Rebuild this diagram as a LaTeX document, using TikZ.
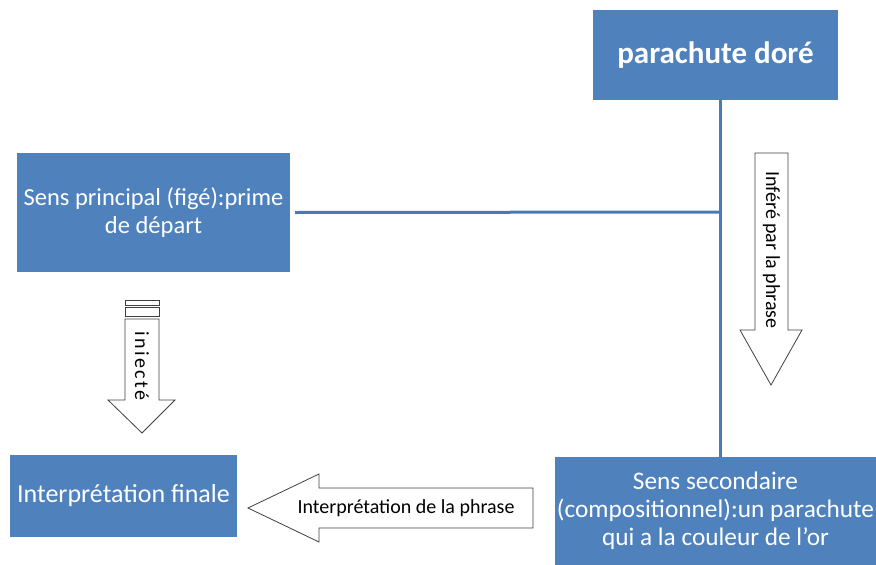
\documentclass[tikz,border=0pt]{standalone}
\usepackage{fontspec}
\setmainfont{Carlito}
\definecolor{boxblue}{HTML}{4F81BD}
\definecolor{lineblue}{HTML}{4A7AB5}
\begin{document}
\begin{tikzpicture}[x=1pt,y=-1pt,
  bluebox/.style={fill=boxblue,draw=none,text=white,align=center,inner sep=0pt},
  blockarrow/.style={draw=black!75,fill=white,line width=0.8pt},
  conn/.style={draw=lineblue,line width=3pt},
  arrtext/.style={font=\fontsize{20}{24}\selectfont,inner sep=0pt}]
\useasboundingbox (0,0) rectangle (876,565);
% boxes
\node[bluebox,minimum width=245pt,minimum height=90pt,font=\bfseries\fontsize{31}{36}\selectfont] (pd) at (715.5,55) {parachute doré};
\node[bluebox,minimum width=273pt,minimum height=119pt,font=\fontsize{24.5}{28}\selectfont] (sp) at (153.5,212.5) {Sens principal (figé):prime\\de départ};
\node[bluebox,minimum width=227pt,minimum height=82pt,font=\fontsize{26}{30}\selectfont] (if) at (123.5,496) {Interprétation finale};
\node[bluebox,minimum width=321pt,minimum height=108pt,font=\fontsize{25.3}{28}\selectfont] (ss) at (715.5,511) {Sens secondaire\\(compositionnel):un parachute\\qui a la couleur de l’or};
% connectors
\coordinate (j) at (720,212);
\draw[conn] (pd.south -| j) -- (ss.north -| j);
\path (sp.east) ++(5,0) coordinate (spe);
\draw[conn] (spe) -- (j);
% Inféré arrow
\draw[blockarrow] (755,153) -- (788,153) -- (788,330) -- (802,330) -- (771,385) -- (740,330) -- (755,330) -- cycle;
\node[arrtext,rotate=-90] (inf) at (771.5,250) {Inféré par la phrase};
% iniecté arrow
\draw[blockarrow] (125,300) rectangle (159,305);
\draw[blockarrow] (125,307) rectangle (159,316);
\draw[blockarrow] (125,319) -- (159,319) -- (159,400) -- (175,400) -- (142,433) -- (108,400) -- (125,400) -- cycle;
\node[arrtext,rotate=-90,font=\fontsize{20}{24}\selectfont\addfontfeatures{LetterSpace=12}] (inj) at (142,366) {iniecté};
% Interprétation de la phrase arrow
\draw[blockarrow] (533,488) -- (533,528) -- (319,528) -- (319,542) -- (248,508) -- (319,474) -- (319,488) -- cycle;
\node[arrtext] (idp) at (406,508) {Interprétation de la phrase};
\end{tikzpicture}
\end{document}
